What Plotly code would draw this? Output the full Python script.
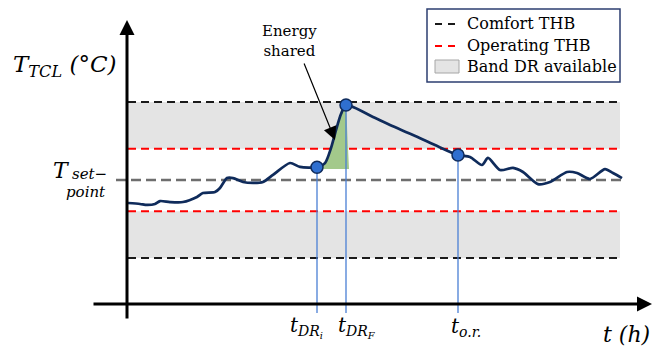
import plotly.graph_objects as go

# ---- data -------------------------------------------------------------
# TCL temperature trajectory (time in h, temperature in degC)
t_curve = [0.1, 1.3, 2.0, 2.8, 3.3, 4.3, 5.6, 7.0, 7.6, 8.8, 9.3, 10.0, 10.6,
           11.6, 12.6, 13.6, 14.6, 16.3, 17.3, 19.0, 19.8, 20.4, 20.9, 21.4,
           21.9, 24.6, 26.3, 28.6, 30.8, 33.1, 34.3, 35.5, 36.1, 37.3, 38.6,
           39.6, 41.1, 42.3, 44.0, 45.0, 46.3, 47.8, 48.6, 49.5]
T_curve = [20.82, 20.77, 20.72, 20.77, 20.92, 20.87, 20.87, 21.13, 21.33,
           21.38, 21.59, 22.10, 22.10, 21.90, 21.85, 21.90, 22.26, 22.87,
           22.67, 22.65, 22.87, 23.64, 24.56, 25.38, 25.85, 25.23, 24.82,
           24.31, 23.79, 23.28, 23.18, 22.77, 23.13, 22.51, 22.62, 22.41,
           21.79, 21.90, 22.41, 22.36, 22.05, 22.56, 22.36, 22.10]

# DR events: start, end of DR, return to operating band
event_names = ["DR_i", "DR_F", "o.r."]
event_t = [19.0, 21.9, 33.1]
event_T = [22.65, 25.85, 23.28]

# thermal hysteresis bands
T_setpoint = 22.0
comfort_band = [18.0, 26.0]
operating_band = [20.4, 23.6]
band_t = [0.1, 49.3]
setpoint_t = [-1.1, 49.5]

legend_labels = ["Comfort THB", "Operating THB", "Band DR available"]

# ---- page geometry ----------------------------------------------------
W, H = 656, 352
T_PX = 10.0          # px per hour
C_PX = 19.5          # px per degC
x_range = [-12.7, -12.7 + W / T_PX]
y_range = [T_setpoint - 172 / C_PX, T_setpoint + 180 / C_PX]
t_axis_T = T_setpoint - 124 / C_PX        # level of the time axis
y_axis_t = 0.0


def paper(xp, yp):
    return xp / W, 1 - yp / H


NAVY = "#0f2b5b"
BLUE_LINE = "#4a7fd4"
DOT = "#2f6fd0"
GREEN = "#a3c98b"
BAND = "#e4e4e4"
SERIF = "DejaVu Serif"

fig = go.Figure()
shapes = []
ann = []

# gray DR bands between comfort and operating limits
for lo, hi in [(operating_band[1], comfort_band[1]), (comfort_band[0], operating_band[0])]:
    shapes.append(dict(type="rect", xref="x", yref="y", x0=band_t[0], x1=band_t[1],
                       y0=lo, y1=hi, fillcolor=BAND, line_width=0, layer="below"))

# dashed limit lines
for lvl in comfort_band:
    fig.add_trace(go.Scatter(x=band_t, y=[lvl, lvl], mode="lines",
                             line=dict(color="#1a1a1a", width=2, dash="8px,5px"),
                             hoverinfo="skip", showlegend=False))
for lvl in operating_band:
    fig.add_trace(go.Scatter(x=band_t, y=[lvl, lvl], mode="lines",
                             line=dict(color="#ff0000", width=2, dash="8px,5px"),
                             hoverinfo="skip", showlegend=False))
fig.add_trace(go.Scatter(x=setpoint_t, y=[T_setpoint, T_setpoint], mode="lines",
                         line=dict(color="#6e6e6e", width=2.5, dash="10px,5px"),
                         hoverinfo="skip", showlegend=False))

# energy shared during the DR event (area under the rise)
i0 = t_curve.index(event_t[0])
i1 = t_curve.index(event_t[1])
base_T = event_T[0] - 0.09
fill_x = [event_t[0]] + t_curve[i0 + 1:i1 + 1] + [event_t[1] + 0.3, event_t[0]]
fill_y = [base_T] + T_curve[i0 + 1:i1 + 1] + [base_T, base_T]
fig.add_trace(go.Scatter(x=fill_x, y=fill_y, mode="lines", fill="toself",
                         fillcolor=GREEN, line=dict(width=0, color=GREEN),
                         hoverinfo="skip", showlegend=False))

# vertical markers of the events down to the time axis
for te, Te in zip(event_t, event_T):
    fig.add_trace(go.Scatter(x=[te, te], y=[Te, t_axis_T - 0.46], mode="lines",
                             line=dict(color=BLUE_LINE, width=1.3),
                             hoverinfo="skip", showlegend=False))

# temperature trajectory
fig.add_trace(go.Scatter(x=t_curve, y=T_curve, mode="lines",
                         line=dict(color=NAVY, width=2.7, shape="spline", smoothing=0.7),
                         hoverinfo="skip", showlegend=False))
fig.add_trace(go.Scatter(x=event_t, y=event_T, mode="markers",
                         marker=dict(size=12, color=DOT, line=dict(color=NAVY, width=1.5)),
                         hoverinfo="skip", showlegend=False))

# axes drawn as arrows
ann.append(dict(x=x_range[0] + 652 / T_PX, y=t_axis_T, ax=x_range[0] + 92 / T_PX, ay=t_axis_T,
                xref="x", yref="y", axref="x", ayref="y", text="", showarrow=True,
                arrowhead=2, arrowsize=1, arrowwidth=3, arrowcolor="black"))
ann.append(dict(x=y_axis_t, y=T_setpoint + 160 / C_PX, ax=y_axis_t, ay=T_setpoint - 140 / C_PX,
                xref="x", yref="y", axref="x", ayref="y", text="", showarrow=True,
                arrowhead=2, arrowsize=1, arrowwidth=3, arrowcolor="black"))

# axis titles
it = dict(family=SERIF, color="black")
x, y = paper(11, 66)
ann.append(dict(x=x, y=y, xref="paper", yref="paper", xanchor="left", yanchor="middle",
                showarrow=False, text="<i>T</i><sub><i>TCL</i></sub> <i>(°C)</i>",
                font=dict(size=23, **it)))
x, y = paper(601, 334)
ann.append(dict(x=x, y=y, xref="paper", yref="paper", xanchor="left", yanchor="middle",
                showarrow=False, text="<i>t (h)</i>", font=dict(size=22, **it)))

# set-point label
x, y = paper(51, 170)
ann.append(dict(x=x, y=y, xref="paper", yref="paper", xanchor="left", yanchor="middle",
                showarrow=False, text="<i>T</i>", font=dict(size=22, **it)))
x, y = paper(70, 174)
ann.append(dict(x=x, y=y, xref="paper", yref="paper", xanchor="left", yanchor="middle",
                showarrow=False, text="<i>set−</i>", font=dict(size=15, **it)))
x, y = paper(64, 192)
ann.append(dict(x=x, y=y, xref="paper", yref="paper", xanchor="left", yanchor="middle",
                showarrow=False, text="<i>point</i>", font=dict(size=15, **it)))

# event labels under the time axis
ev_text = ["<i>t</i><sub><i>DR<sub>i</sub></i></sub>",
           "<i>t</i><sub><i>DR<sub>F</sub></i></sub>",
           "<i>t</i><sub><i>o.r.</i></sub>"]
ev_shift = [-29, -10, -9]
for te, txt, sh in zip(event_t, ev_text, ev_shift):
    ann.append(dict(x=te, y=1 - 327 / H, xref="x", yref="paper", xanchor="left",
                    yanchor="middle", xshift=sh, showarrow=False, text=txt,
                    font=dict(size=20, **it)))

# "Energy shared" callout
x, y = paper(289, 41)
ann.append(dict(x=x, y=y, xref="paper", yref="paper", xanchor="center", yanchor="middle",
                showarrow=False, text="Energy<br>shared",
                font=dict(size=15, family=SERIF, color="black")))
ann.append(dict(x=event_t[0] + 1.8, y=24.05, ax=event_t[0] - 1.35, ay=T_setpoint + (180 - 62) / C_PX,
                xref="x", yref="y", axref="x", ayref="y", text="", showarrow=True,
                arrowhead=2, arrowsize=2.2, arrowwidth=1.2, arrowcolor="black"))

# legend box
x0, y0 = paper(427, 82)
x1, y1 = paper(620, 9)
shapes.append(dict(type="rect", xref="paper", yref="paper", x0=x0, x1=x1, y0=y0, y1=y1,
                   line=dict(color="#2c3e70", width=1.5), fillcolor="white"))
rows = [24, 46, 67]
for lab, yy, col in zip(legend_labels, rows, ["#1a1a1a", "#ff0000", None]):
    if col:
        for a, b in [(435, 442), (448, 455)]:
            xa, ya = paper(a, yy)
            xb, _ = paper(b, yy)
            shapes.append(dict(type="line", xref="paper", yref="paper", x0=xa, x1=xb,
                               y0=ya, y1=ya, line=dict(color=col, width=2)))
    else:
        xa, ya = paper(435, 73)
        xb, yb = paper(459, 60)
        shapes.append(dict(type="rect", xref="paper", yref="paper", x0=xa, x1=xb, y0=ya, y1=yb,
                           fillcolor=BAND, line=dict(color="#a6a6a6", width=1)))
    xt, yt = paper(465, yy)
    ann.append(dict(x=xt, y=yt, xref="paper", yref="paper", xanchor="left", yanchor="middle",
                    showarrow=False, text=lab, font=dict(size=16, family=SERIF, color="black")))

fig.update_layout(
    width=W, height=H, margin=dict(l=0, r=0, t=0, b=0),
    paper_bgcolor="white", plot_bgcolor="white",
    font=dict(family=SERIF),
    xaxis=dict(range=x_range, visible=False, fixedrange=True),
    yaxis=dict(range=y_range, visible=False, fixedrange=True),
    shapes=shapes, annotations=ann, showlegend=False,
)

fig.write_html("out.html")
